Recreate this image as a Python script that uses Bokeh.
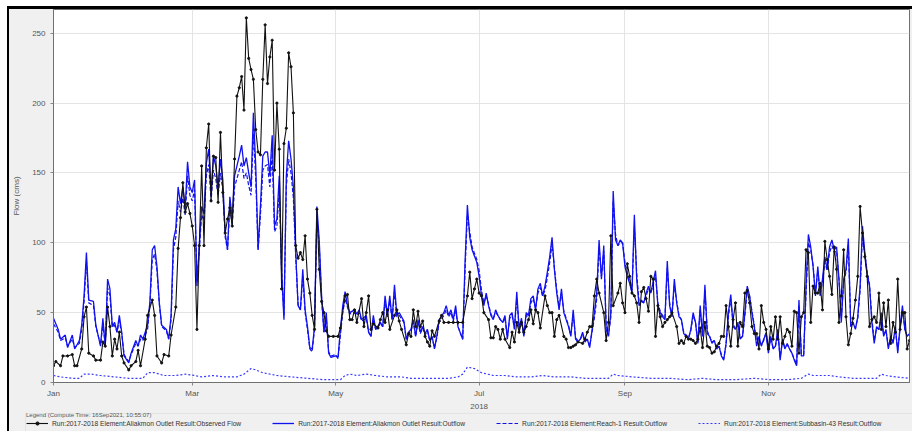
from bokeh.plotting import figure
from bokeh.models import Range1d, FixedTicker, Legend, LegendItem, Label, BoxAnnotation
from bokeh.layouts import column
from bokeh.embed import file_html
from bokeh.resources import INLINE

# ---------------- data (day of year 2018, flow in cms) ----------------
month_ticks = [0, 59, 120, 181, 243, 304]
month_labels = ["Jan", "Mar", "May", "Jul", "Sep", "Nov"]
year_label = "2018"
year_tick = 181
flow_ticks = [0, 50, 100, 150, 200, 250]

obs_day = [0, 1, 3, 4, 6, 8, 9, 10, 12, 13, 14, 15, 17, 18, 20, 21, 22, 23, 24, 25,
           26, 27, 28, 29, 30, 32, 33, 35, 36, 37, 39, 40, 42, 43, 44, 46, 47, 49, 50, 52,
           53, 54, 55, 56, 57, 58, 59, 60, 61, 62, 63, 64, 65, 66, 67, 68, 69, 70, 71, 72,
           73, 74, 75, 76, 77, 78, 79, 80, 81, 82, 83, 84, 85, 86, 87, 88, 89, 90, 91, 92,
           93, 94, 95, 96, 97, 98, 99, 100, 101, 102, 103, 104, 105, 106, 107, 108, 109, 110, 111, 112,
           113, 114, 115, 116, 117, 119, 121, 122, 124, 125, 126, 127, 128, 129, 131, 132, 133, 134, 135, 136,
           138, 139, 140, 141, 142, 143, 145, 146, 147, 148, 150, 151, 152, 153, 154, 155, 156, 157, 158, 159,
           160, 161, 162, 164, 165, 166, 168, 170, 172, 174, 176, 177, 178, 179, 180, 181, 182, 183, 185, 186,
           187, 188, 189, 190, 191, 192, 194, 195, 196, 197, 198, 199, 200, 201, 202, 203, 204, 205, 206, 207,
           209, 210, 211, 212, 213, 214, 215, 217, 218, 219, 220, 221, 222, 223, 225, 226, 227, 228, 229, 230,
           231, 232, 234, 235, 236, 237, 238, 240, 241, 242, 243, 244, 245, 246, 247, 248, 249, 250, 251, 252,
           253, 254, 255, 256, 257, 258, 259, 260, 261, 262, 263, 265, 266, 267, 268, 269, 270, 271, 272, 273,
           274, 275, 276, 277, 278, 279, 280, 281, 282, 283, 284, 285, 286, 287, 288, 289, 290, 291, 292, 293,
           294, 295, 296, 297, 298, 299, 300, 301, 302, 303, 304, 305, 306, 307, 308, 309, 310, 311, 312, 313,
           314, 315, 316, 317, 318, 319, 320, 321, 322, 323, 324, 325, 326, 327, 328, 329, 330, 331, 332, 333,
           334, 335, 336, 337, 338, 339, 340, 341, 342, 343, 344, 345, 346, 347, 348, 349, 350, 351, 352, 353,
           354, 355, 356, 357, 358, 359, 360, 361, 362, 363, 364]
obs_flow = [12, 15, 12, 19, 19, 20, 12, 12, 24, 47, 54, 21, 19, 16, 16, 29, 26, 54, 40, 19,
            31, 24, 36, 19, 14, 9, 12, 15, 23, 12, 31, 48, 59, 48, 19, 14, 20, 19, 34, 54,
            96, 118, 143, 122, 128, 121, 112, 98, 38, 98, 155, 98, 168, 185, 130, 162, 161, 129, 179, 136,
            107, 117, 125, 112, 160, 205, 211, 219, 195, 261, 232, 224, 217, 181, 165, 163, 217, 256, 214, 233,
            245, 152, 200, 167, 67, 171, 182, 236, 226, 193, 98, 89, 93, 88, 105, 74, 64, 48, 38, 124,
            81, 58, 50, 37, 33, 33, 33, 39, 62, 63, 45, 45, 52, 43, 60, 40, 50, 62, 38, 42,
            39, 45, 50, 43, 52, 38, 48, 52, 44, 38, 27, 35, 33, 52, 40, 51, 40, 44, 33, 29,
            26, 37, 33, 44, 48, 43, 43, 43, 43, 43, 62, 79, 60, 67, 74, 64, 62, 50, 45, 32,
            32, 40, 38, 31, 38, 31, 25, 36, 29, 43, 36, 43, 36, 40, 45, 52, 42, 52, 50, 39,
            62, 55, 50, 50, 33, 45, 48, 33, 31, 25, 25, 26, 27, 29, 28, 31, 36, 40, 40, 62,
            74, 64, 50, 30, 43, 105, 55, 64, 71, 57, 50, 85, 76, 64, 62, 57, 43, 65, 68, 60,
            51, 76, 74, 33, 55, 47, 40, 43, 45, 47, 50, 40, 28, 30, 28, 33, 31, 31, 30, 28,
            31, 39, 25, 43, 26, 25, 21, 22, 26, 28, 33, 33, 55, 40, 26, 45, 57, 26, 43, 40,
            64, 66, 57, 40, 35, 35, 24, 55, 43, 38, 24, 40, 31, 47, 31, 47, 28, 33, 38, 36,
            26, 51, 50, 21, 47, 50, 95, 93, 43, 69, 64, 64, 71, 52, 101, 88, 76, 63, 97, 81,
            43, 62, 95, 47, 27, 35, 46, 59, 76, 126, 107, 90, 76, 40, 45, 47, 43, 64, 38, 57,
            40, 59, 28, 43, 36, 74, 38, 50, 50, 24, 30]

out_day = [0, 2, 3, 5, 6, 8, 9, 11, 12, 13, 14, 15, 17, 18, 20, 21, 22, 23, 24, 25,
           26, 27, 28, 29, 30, 32, 33, 35, 36, 37, 38, 40, 41, 42, 43, 44, 45, 46, 48, 49,
           50, 51, 52, 53, 54, 55, 56, 57, 58,
           59, 60, 61, 62, 63, 64, 65, 66, 67, 68, 69, 70, 71, 72, 73, 74, 75, 76, 77, 78,
           79, 80, 81, 82, 83, 84, 85, 86, 87, 88, 89, 90, 91, 92, 93, 94, 95, 96, 97, 98,
           99, 100, 101, 102, 103, 104, 105, 106, 107, 108, 109, 110, 111, 112, 113, 114, 115, 116, 117, 118,
           120,
           121, 122, 123, 124, 125, 126, 128, 129, 130, 131, 133, 134, 135, 136, 137, 139, 140, 141, 142, 143,
           144, 145, 146, 147, 149, 150, 151, 152, 153, 154, 155, 156, 157, 158, 159, 160, 161, 162, 163, 164,
           166, 167, 168, 169, 170, 171, 172, 174, 175, 176, 177, 178, 180,
           181, 182, 183, 184, 185, 186, 187, 188, 189, 190, 191, 192, 193, 194, 195, 196, 197, 198, 199, 200,
           201, 202, 203, 204, 205, 206, 207, 208, 209, 210, 211, 212, 213, 214, 215, 216, 217,
           219, 220, 221, 222, 223, 224, 225, 226, 227, 228,
           230, 231, 232, 233, 234, 235, 236, 237, 238, 239, 240,
           241, 242, 243, 244, 245, 246, 247, 248, 249, 250, 251, 252, 253, 254,
           256, 257, 258, 259, 260, 261, 262, 263, 264, 265, 266, 267, 268, 269, 270, 271, 272, 273, 274, 275,
           276, 277, 278, 279, 280, 281, 282, 283, 284, 285, 286, 287, 288, 289, 290, 291, 292, 293, 294, 295,
           296, 297, 298, 299, 300, 301, 302,
           303, 304, 305, 306, 307, 308, 309, 310, 311, 312, 313, 314, 315, 316, 317, 318, 319, 320, 321, 322,
           323, 324, 325, 326, 327, 328, 329, 330, 331, 332, 333, 334, 335, 336, 337, 338, 339, 340, 341, 342,
           343, 344, 345, 346, 347, 348, 349, 350, 351, 352, 353, 354, 355, 356, 357, 358, 359, 360, 361, 362,
           363, 364]
out_flow = [46, 38, 31, 34, 25, 34, 24, 30, 41, 62, 93, 59, 58, 41, 26, 46, 26, 74, 67, 40,
            43, 36, 48, 36, 19, 14, 21, 30, 26, 34, 31, 41, 58, 95, 98, 83, 57, 41, 38, 31,
            48, 102, 110, 140, 128, 140, 125, 158, 140,
            136, 145, 69, 98, 126, 121, 157, 167, 136, 162, 155, 140, 160, 145, 107, 95, 133, 117, 148, 155,
            162, 170, 155, 161, 150, 140, 193, 155, 95, 126, 162, 165, 165, 148, 177, 112, 117, 148, 79, 45,
            148, 173, 160, 140, 93, 55, 52, 81, 52, 40, 25, 24, 40, 126, 102, 62, 36, 50, 21, 18,
            19,
            18, 38, 55, 65, 55, 50, 52, 49, 52, 45, 48, 36, 33, 48, 38, 43, 40, 62, 48, 62,
            45, 70, 48, 50, 44, 31, 36, 38, 45, 33, 45, 36, 40, 35, 38, 30, 33, 24, 33, 45,
            50, 55, 48, 52, 45, 55, 40, 31, 86, 127, 104, 95, 86,
            76, 62, 55, 64, 55, 48, 45, 52, 48, 45, 43, 48, 31, 48, 50, 38, 65, 38, 46, 33,
            50, 48, 60, 62, 52, 67, 71, 62, 69, 79, 90, 104, 81, 64, 52, 67, 50,
            40, 33, 52, 31, 29, 31, 36, 29, 31, 25,
            50, 64, 102, 74, 98, 38, 33, 50, 137, 102, 98,
            102, 100, 83, 76, 71, 64, 120, 74, 55, 59, 57, 64, 69, 64,
            80, 55, 50, 47, 45, 87, 55, 47, 74, 57, 47, 45, 35, 33, 31, 38, 50, 43, 28, 55,
            33, 70, 35, 33, 28, 30, 24, 26, 19, 16, 28, 50, 63, 40, 38, 43, 31, 33, 50, 69,
            62, 50, 40, 26, 33, 26, 31,
            35, 21, 33, 24, 26, 38, 16, 31, 24, 28, 24, 21, 16, 12, 59, 19, 19, 69, 106, 97,
            83, 62, 83, 62, 74, 90, 81, 97, 102, 95, 97, 74, 43, 74, 81, 103, 40, 43, 38, 47,
            69, 112, 93, 78, 69, 43, 28, 40, 38, 50, 33, 38, 24, 33, 28, 40, 21, 40, 55, 38,
            33, 35]
reach_flow = [42, 36, 30, 32, 26, 31, 25, 28, 38, 58, 87, 57, 55, 40, 27, 42, 27, 68, 62, 40,
              41, 36, 44, 35, 20, 15, 20, 28, 26, 31, 30, 38, 55, 88, 92, 80, 56, 40, 37, 31,
              45, 95, 104, 130, 122, 132, 120, 148, 134,
              130, 138, 72, 95, 120, 116, 148, 156, 130, 152, 146, 134, 150, 138, 104, 95, 126, 112, 140, 146,
              152, 158, 146, 150, 141, 134, 178, 146, 95, 120, 152, 155, 156, 140, 164, 108, 112, 138, 80, 48,
              140, 160, 150, 132, 90, 56, 52, 76, 50, 38, 24, 22, 38, 118, 98, 60, 36, 46, 22, 19,
              20,
              17, 34, 50, 60, 54, 49, 50, 48, 50, 44, 46, 36, 33, 45, 38, 42, 40, 58, 47, 58,
              45, 65, 47, 48, 43, 31, 35, 37, 43, 33, 43, 35, 39, 34, 37, 30, 32, 25, 32, 43,
              48, 52, 47, 50, 44, 52, 40, 31, 80, 120, 108, 97, 88,
              80, 66, 57, 62, 56, 49, 46, 50, 48, 45, 43, 46, 32, 46, 48, 39, 60, 40, 44, 34,
              48, 47, 57, 60, 53, 64, 68, 62, 66, 75, 86, 99, 82, 66, 54, 64, 51,
              41, 34, 49, 32, 30, 31, 34, 30, 31, 26,
              46, 60, 97, 76, 94, 42, 34, 47, 130, 106, 98,
              100, 100, 86, 78, 72, 66, 112, 78, 58, 58, 57, 62, 67, 64,
              76, 57, 51, 48, 46, 82, 57, 48, 70, 58, 48, 45, 36, 34, 32, 37, 48, 43, 29, 52,
              34, 66, 37, 33, 29, 30, 25, 26, 20, 17, 27, 47, 60, 42, 38, 42, 32, 33, 48, 66,
              62, 51, 41, 28, 32, 27, 30,
              36, 23, 32, 25, 26, 36, 18, 30, 25, 27, 24, 21, 17, 13, 55, 21, 20, 64, 100, 95,
              84, 64, 80, 63, 72, 86, 80, 93, 98, 93, 94, 74, 46, 72, 79, 98, 43, 43, 39, 46,
              66, 106, 92, 79, 70, 46, 30, 39, 38, 48, 34, 37, 26, 32, 29, 38, 23, 39, 52, 39,
              33, 34]

sub_day = [0, 3, 8, 11, 13, 16, 20, 26, 32, 38, 40, 43, 47, 52, 56, 60, 63, 68, 73, 78,
           81, 84, 86, 89, 95, 101, 108, 115, 122, 124, 126, 129, 133, 137, 142, 148, 152, 158, 163, 168,
           172, 174, 176, 179, 182, 187, 192, 197, 203, 208, 213, 220, 226, 232, 236, 238, 240, 246, 254, 262,
           270, 276, 282, 290, 298, 305, 312, 318, 321, 323, 326, 330, 334, 340, 346, 350, 352, 354, 358, 364]
sub_flow = [5, 4, 3, 3, 6, 6, 5, 4, 3, 3, 7, 7, 5, 5, 6, 5, 4, 5, 4, 4,
            6, 10, 9, 7, 5, 4, 3, 2, 2, 5, 6, 5, 6, 5, 4, 4, 3, 3, 3, 3,
            4, 6, 11, 10, 7, 5, 5, 4, 4, 5, 4, 4, 3, 3, 3, 6, 5, 4, 3, 3,
            2, 3, 2, 2, 3, 2, 2, 3, 6, 5, 5, 5, 4, 3, 3, 3, 6, 5, 4, 3]

labels = ["Run:2017-2018 Element:Aliakmon Outlet Result:Observed Flow",
          "Run:2017-2018 Element:Aliakmon Outlet Result:Outflow",
          "Run:2017-2018 Element:Reach-1 Result:Outflow",
          "Run:2017-2018 Element:Subbasin-43 Result:Outflow"]
legend_title = "Legend (Compute Time: 16Sep2021, 10:55:07)"

# ---------------- styles ----------------
FONT = "Liberation Sans"
BLUE = "#1010f0"
BLACK = "#111111"
SUBC = "#3838ff"
BG = "#f0f0f0"
W = 903

p = figure(width=W, height=391, output_backend="svg", toolbar_location=None,
           x_range=Range1d(0, 364), y_range=Range1d(0, 267),
           min_border_left=44, min_border_right=3, min_border_top=0, min_border_bottom=17,
           background_fill_color="white", border_fill_color=BG)
p.outline_line_color = "#707070"
p.frame_align = False


def draw_series(fig):
    rs = fig.line(sub_day, sub_flow, color=SUBC, line_width=1.2, line_dash="2 2")
    rr = fig.line(out_day, reach_flow, color=BLUE, line_width=1.2, line_dash="4 2")
    ro = fig.line(out_day, out_flow, color=BLUE, line_width=1.3)
    rb = fig.line(obs_day, obs_flow, color=BLACK, line_width=1.1)
    rp = fig.scatter(obs_day, obs_flow, size=2.2, color=BLACK)
    return rb, rp, ro, rr, rs


draw_series(p)

p.xaxis.ticker = FixedTicker(ticks=month_ticks)
p.xaxis.major_label_overrides = {t: l for t, l in zip(month_ticks, month_labels)}
p.yaxis.ticker = FixedTicker(ticks=flow_ticks)
for ax in (p.xaxis[0], p.yaxis[0]):
    ax.major_label_text_font = FONT
    ax.major_label_text_font_size = "8px"
    ax.major_label_text_color = "#555555"
    ax.axis_line_color = "#707070"
    ax.major_tick_line_color = "#888888"
    ax.major_tick_out = 3
    ax.major_tick_in = 0
    ax.minor_tick_line_color = None
p.yaxis.axis_label = "Flow (cms)"
p.yaxis.axis_label_text_font = FONT
p.yaxis.axis_label_text_font_size = "8px"
p.yaxis.axis_label_text_font_style = "normal"
p.yaxis.axis_label_text_color = "#555555"
p.yaxis.axis_label_standoff = 8
p.xaxis.major_label_standoff = 3
p.xgrid.grid_line_color = "#e4e4e4"
p.ygrid.grid_line_color = "#e4e4e4"

# strip below the chart: year label and legend.  It shares the chart's x scale
# (same frame width and offsets) but its y range lies far above the data, so the
# series drawn here only serve as legend samples.
H2 = 431 - 9 - 391
q = figure(width=W, height=H2, output_backend="svg", toolbar_location=None,
           x_range=Range1d(-44 * 364 / (W - 47), 364 + 3 * 364 / (W - 47)),
           y_range=Range1d(1000, 1001),
           x_axis_type=None, y_axis_type=None,
           min_border_left=0, min_border_right=0, min_border_top=0, min_border_bottom=0,
           background_fill_color=BG, border_fill_color=BG)
q.outline_line_color = None
q.frame_align = False
q.xgrid.visible = False
q.ygrid.visible = False
l_obs, l_obs_pts, l_out, l_reach, l_sub = draw_series(q)

q.add_layout(BoxAnnotation(left=16, right=W + 5, top=H2 - 13, bottom=-5,
                           left_units="screen", right_units="screen",
                           top_units="screen", bottom_units="screen",
                           fill_alpha=0, line_color="#c8c8c8", line_width=1))

legend = Legend(items=[LegendItem(label=labels[0], renderers=[l_obs, l_obs_pts]),
                       LegendItem(label=labels[1], renderers=[l_out]),
                       LegendItem(label=labels[2], renderers=[l_reach]),
                       LegendItem(label=labels[3], renderers=[l_sub])],
                orientation="horizontal", location=(17, 4),
                title=legend_title, title_text_font=FONT, title_text_font_size="6px",
                title_text_font_style="normal", title_text_color="#555555", title_standoff=1,
                label_text_font=FONT, label_text_font_size="6.7px", label_text_color="#333333",
                glyph_width=22, glyph_height=8, label_height=8, label_standoff=4,
                spacing=31, padding=2, margin=0,
                border_line_color=None, background_fill_alpha=0)
q.add_layout(legend)

q.add_layout(Label(x=year_tick, y=H2 - 3, y_units="screen", text=year_label,
                   text_align="center", text_baseline="top",
                   text_font=FONT, text_font_size="8px", text_color="#555555"))

layout = column(p, q, spacing=0,
                styles={"margin-left": "7px", "margin-top": "6px",
                        "border-top": "3px solid #000000", "border-left": "2px solid #000000",
                        "background-color": BG})

open("out.html", "w").write(file_html(layout, INLINE))
